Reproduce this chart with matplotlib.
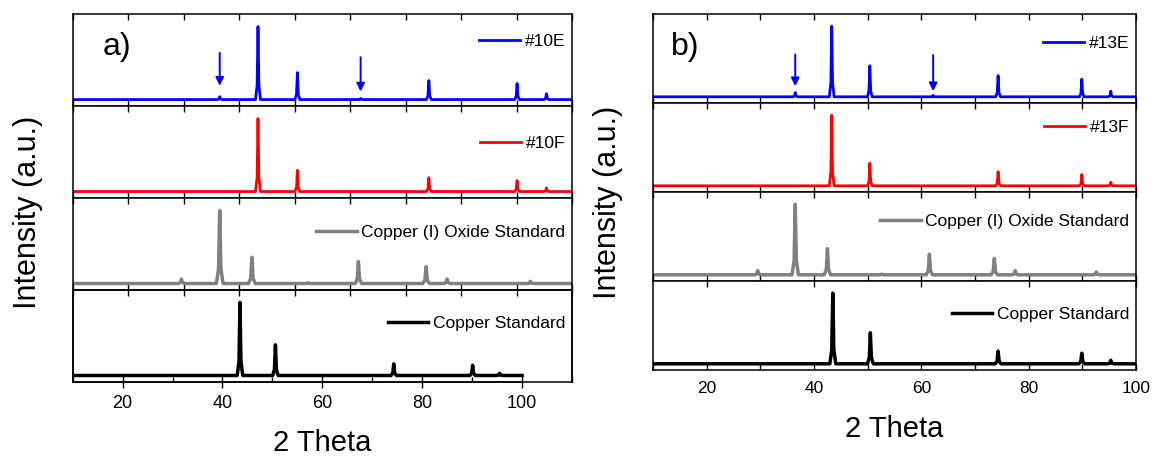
import matplotlib
matplotlib.use('Agg')
import matplotlib.pyplot as plt
from matplotlib.ticker import MultipleLocator

plt.rcParams['font.family'] = ['Liberation Sans', 'DejaVu Sans']
plt.rcParams['axes.linewidth'] = 1.1

# peak positions (2 theta) and relative heights
a_labels = ['#10E', '#10F', 'Copper (I) Oxide Standard', 'Copper Standard']
b_labels = ['#13E', '#13F', 'Copper (I) Oxide Standard', 'Copper Standard']
colors = ['#0000ff', '#ff0000', '#808080', '#000000']

a10E_pos = [36.5, 43.4, 50.5, 61.9, 74.2, 90.1, 95.4]
a10E_hts = [4, 100, 37, 1.5, 26, 22, 8]
a10F_pos = [43.4, 50.5, 74.2, 90.1, 95.4]
a10F_hts = [100, 29, 19, 15, 5]
a_cu2o_pos = [29.6, 36.5, 42.3, 52.5, 61.5, 73.7, 77.5, 92.5]
a_cu2o_hts = [6, 100, 36, 1, 30, 23, 6, 3]
a_cu_pos = [43.5, 50.6, 74.3, 90.1, 95.5]
a_cu_hts = [100, 42, 16, 14, 3]

b13E_pos = [36.5, 43.3, 50.4, 62.2, 74.3, 89.9, 95.3]
b13E_hts = [6, 100, 44, 2, 30, 25, 8]
b13F_pos = [43.3, 50.4, 74.3, 89.9, 95.3]
b13F_hts = [100, 32, 20, 16, 5]
b_cu2o_pos = [29.5, 36.5, 42.5, 52.6, 61.5, 73.6, 77.5, 92.6]
b_cu2o_hts = [6, 100, 37, 1, 29, 23, 6, 4]
b_cu_pos = [43.5, 50.5, 74.3, 89.9, 95.3]
b_cu_hts = [100, 44, 18, 15, 5]

# arrows marking Cu2O reflections in the E samples
a_arrow_x = [36.5, 61.9]
a_arrow_tail = [64, 58]
a_arrow_tip = [19, 11]
b_arrow_x = [36.5, 62.2]
b_arrow_tail = [60, 59]
b_arrow_tip = [15, 8]

x_start, x_end = 10, 100
tick_labels = ['20', '40', '60', '80', '100']


def trace(pos, hts, w):
    xs, ys = [x_start], [0]
    for p, h in sorted(zip(pos, hts)):
        xs += [p - w, p - 0.35 * w, p, p + 0.35 * w, p + w]
        ys += [0, 0.2 * h, h, 0.2 * h, 0]
    xs.append(x_end)
    ys.append(0)
    return xs, ys


fig = plt.figure(figsize=(11.56, 4.57), dpi=100)
gs_a = fig.add_gridspec(4, 1, left=0.0629, right=0.4948, top=0.969, bottom=0.164, hspace=0)
gs_b = fig.add_gridspec(4, 1, left=0.5649, right=0.9827, top=0.969, bottom=0.190, hspace=0)

a_series = [(a10E_pos, a10E_hts), (a10F_pos, a10F_hts), (a_cu2o_pos, a_cu2o_hts), (a_cu_pos, a_cu_hts)]
b_series = [(b13E_pos, b13E_hts), (b13F_pos, b13F_hts), (b_cu2o_pos, b_cu2o_hts), (b_cu_pos, b_cu_hts)]
widths = [0.45, 0.45, 0.6, 0.55]
lws = [2.0, 2.0, 2.5, 2.5]
a_leg_y = [0.70, 0.59, 0.63, 0.64]
b_leg_y = [0.67, 0.73, 0.67, 0.63]

for gs, series, labels, leg_y, panel in [(gs_a, a_series, a_labels, a_leg_y, 'a'),
                                          (gs_b, b_series, b_labels, b_leg_y, 'b')]:
    axes = [fig.add_subplot(gs[i]) for i in range(4)]
    for i, ax in enumerate(axes):
        xs, ys = trace(series[i][0], series[i][1], widths[i])
        ax.plot(xs, ys, color=colors[i], lw=lws[i], label=labels[i])
        ax.set_ylim(-9, 117)
        ax.set_yticks([])
        ax.set_xlim(10, 100)
        ax.xaxis.set_major_locator(MultipleLocator(10))
        ax.tick_params(axis='x', direction='in', top=True, bottom=True, length=4.5,
                       width=1.0, labelbottom=False, labelsize=12.5, pad=8)
        ax.legend(loc='center right', bbox_to_anchor=(1.0, leg_y[i]), frameon=False,
                  fontsize=12.5, handlelength=2.35, handletextpad=0.25,
                  borderaxespad=0.2, borderpad=0.2)

    bottom = axes[3]
    if panel == 'a':
        # bottom frame of panel a runs on a wider 10-110 scale
        bottom.set_xlim(10, 110)
        bottom.spines['bottom'].set_bounds(10, 100)
        bottom.set_xticks([20, 40, 60, 80, 100])
        bottom.set_xticklabels(tick_labels)
        bottom.xaxis.set_minor_locator(MultipleLocator(10))
        bottom.tick_params(axis='x', which='major', direction='inout', top=False, length=9,
                           width=1.0, labelbottom=True, labelsize=13, pad=5)
        bottom.tick_params(axis='x', which='minor', direction='in', top=False, length=3.5,
                           width=1.0)
        twin = bottom.twiny()
        twin.set_xlim(10, 100)
        twin.xaxis.set_major_locator(MultipleLocator(10))
        twin.tick_params(axis='x', direction='in', top=True, length=4.5, width=1.0,
                         labeltop=False)
        arrow_x, arrow_tail, arrow_tip = a_arrow_x, a_arrow_tail, a_arrow_tip
    else:
        bottom.set_xticks([20, 40, 60, 80, 100])
        bottom.set_xticklabels(tick_labels)
        bottom.xaxis.set_minor_locator(MultipleLocator(10))
        bottom.tick_params(axis='x', which='both', direction='in', length=4.5, width=1.0,
                           labelbottom=True, labelsize=12.5, pad=8)
        arrow_x, arrow_tail, arrow_tip = b_arrow_x, b_arrow_tail, b_arrow_tip

    for x, y0, y1 in zip(arrow_x, arrow_tail, arrow_tip):
        axes[0].annotate('', xy=(x, y1), xytext=(x, y0),
                         arrowprops=dict(arrowstyle='-|>', color='#0000ff', lw=1.4,
                                         mutation_scale=12, shrinkA=0, shrinkB=0))

    if panel == 'a':
        axes[0].text(0.06, 0.64, 'a)', transform=axes[0].transAxes, fontsize=23, va='center')
    else:
        axes[0].text(0.037, 0.63, 'b)', transform=axes[0].transAxes, fontsize=23, va='center')

fig.text(0.0242, 0.536, 'Intensity (a.u.)', rotation=90, fontsize=22, ha='center', va='center')
fig.text(0.526, 0.558, 'Intensity (a.u.)', rotation=90, fontsize=22, ha='center', va='center')
fig.text(322 / 1156, 1 - 451 / 457, '2 Theta', fontsize=21, ha='center', va='baseline')
fig.text(894 / 1156, 1 - 437 / 457, '2 Theta', fontsize=21, ha='center', va='baseline')

fig.savefig('out.png', dpi=100, facecolor='white')
